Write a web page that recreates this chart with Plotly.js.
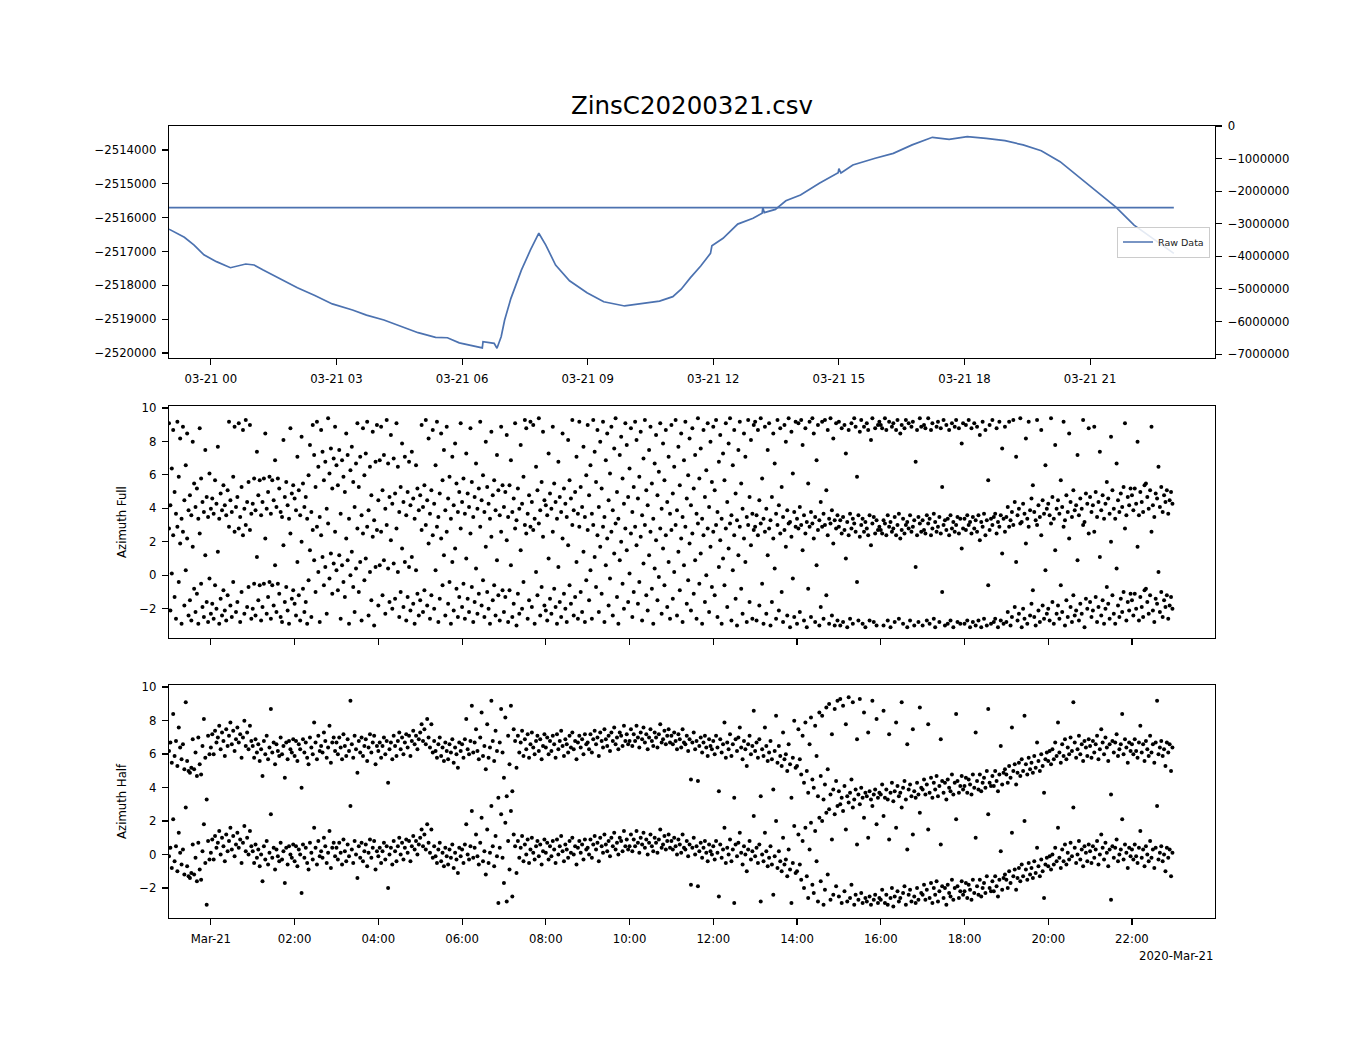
<!DOCTYPE html>
<html>
<head>
<meta charset="utf-8">
<script src="https://cdn.plot.ly/plotly-3.0.1.min.js"></script>
<style>html,body{margin:0;padding:0;background:#fff;}#chart{width:1350px;height:1050px;}</style>
</head>
<body>
<div id="chart"></div>
<script>
// ---------------- data ----------------
const chartTitle = "ZinsC20200321.csv";

// raw data: minutes after 2020-03-20 23:00 and value
const rawMinutes = [0,22,36,50,68,88,110,122,135,160,184,209,234,263,283,308,332,357,382,399,416,446,449,450,466,470,476,481,490,505,518,530,540,554,574,599,623,653,678,703,722,734,747,762,776,778,794,815,837,850,851,853,869,884,905,932,959,960,963,980,1012,1038,1065,1094,1118,1144,1171,1198,1224,1250,1277,1303,1330,1357,1383,1409,1440];
const rawValues = [-2516340,-2516580,-2516810,-2517100,-2517300,-2517480,-2517370,-2517400,-2517550,-2517820,-2518070,-2518300,-2518550,-2518730,-2518880,-2519025,-2519220,-2519400,-2519540,-2519550,-2519700,-2519830,-2519850,-2519665,-2519715,-2519860,-2519520,-2519025,-2518385,-2517550,-2516955,-2516460,-2516810,-2517400,-2517865,-2518220,-2518485,-2518610,-2518530,-2518465,-2518335,-2518115,-2517780,-2517430,-2517055,-2516830,-2516610,-2516190,-2516020,-2515870,-2515700,-2515850,-2515755,-2515500,-2515330,-2514985,-2514670,-2514550,-2514680,-2514445,-2514245,-2514100,-2513850,-2513625,-2513685,-2513605,-2513655,-2513725,-2513850,-2514020,-2514345,-2514790,-2515230,-2515690,-2516220,-2516610,-2517055];

// constant reference line on the right axis
const refMinutes = [0, 1440];
const refValues = [-2508000, -2508000];

// azimuth samples every 2 minutes from 23:00 (values in radians, -pi..pi)
const sampleStepMin = 2;
const azFull = [
2.8,-2.1,0.1,2.4,-1.3,-2.6,2.9,-0.4,1.9,-2.9, 2.6,-1.8,0.3,2.2,-2.4,-1.5,-2.7,1.7,-0.8,-2.2, -1.1,-2.9,2.5,-0.5,-1.9,-2.5,1.2,-1.6,-2.8,-0.2,
-2.3,-1.7,-2.6,-0.6,-2.0,1.4,-2.9,-1.4,-2.4,-0.9, -2.1,-2.7,-1.2,2.9,-1.8,-2.5,-0.4,2.6,-2.2,-1.6, 2.8,-2.8,-1.0,2.4,-2.3,3.0,-1.9,-0.7,2.7,-2.6,
-2.0,-0.5,-2.4,1.1,-1.5,-0.6,-2.7,-1.9,-0.5,2.2, -2.3,-1.3,-0.4,-2.6,-0.6,-1.8,0.6,-2.2,-0.5,-1.1, -2.5,-2.8,1.8,-1.6,-0.7,-2.1,-2.9,2.5,-1.4,-0.9,
-1.7,-2.4,0.8,-1.2,-2.7,2.0,-0.8,-2.2,-1.6,-2.9, -0.3,1.5,-2.5,2.7,0.9,-1.0,2.9,0.2,-2.8,2.4, 1.1,-0.6,0.5,-2.3,3.1,-0.2,1.3,-1.1,0.7,2.6,
0.3,-0.9,1.2,-2.6,0.6,-0.4,-1.3,2.2,0.9,-2.9, 0.0,1.4,-0.7,-2.2,0.4,2.8,-1.0,0.8,-2.7,2.5, -0.3,1.0,2.9,-2.4,0.2,-1.5,2.3,-3.0,0.5,2.7,
-1.8,0.6,2.6,-1.2,0.9,-2.3,3.0,0.4,-1.6,2.1, -2.0,0.7,-1.4,2.8,0.2,-2.5,-1.0,1.6,-1.9,0.8, -2.7,-1.3,0.5,-2.1,1.1,-1.7,-2.9,0.3,-1.1,-2.4,
-1.5,2.7,-2.2,-0.9,3.0,-1.8,1.9,-2.6,-1.2,2.4, -2.0,0.3,2.9,-2.8,-1.4,2.2,-0.6,1.2,-2.4,2.6, -1.7,-0.4,-2.9,0.8,-2.1,1.6,-0.8,-2.5,-1.3,2.8,
-1.9,-0.5,-2.6,1.0,-1.4,-2.2,2.5,-0.7,-2.8,-1.6, 0.4,-2.3,-1.1,2.9,-1.8,-0.3,-2.5,1.7,-1.0,-2.0, -2.9,2.3,-1.5,-0.6,-2.4,0.9,-1.2,-2.7,2.6,-0.9,
-2.2,-1.3,2.1,-2.8,-0.9,0.6,-2.5,-1.7,2.8,-3.0, -1.1,-2.3,1.5,-2.0,-0.4,3.0,2.5,-2.6,-1.5,2.9, -1.9,2.7,-2.9,0.2,-1.2,3.1,-2.4,-0.7,2.3,-1.8,
-2.1,-2.7,1.0,-1.4,-2.3,2.6,-0.8,-1.9,-2.9,0.5, -1.6,-2.5,2.2,-1.1,-2.0,-2.8,1.8,-0.6,-1.7,3.0, -2.4,-1.3,0.8,-2.6,2.9,-1.0,-2.2,1.4,-2.8,-0.3,
2.7,-1.5,0.3,-2.6,3.0,1.1,-0.7,2.4,-2.2,1.7, -1.1,2.9,-2.8,0.6,2.2,-1.8,-0.2,2.6,-2.4,1.3, 3.1,-1.3,-2.9,0.9,2.0,-0.5,-2.0,2.8,1.5,-1.6,
0.1,2.5,-2.5,-1.0,2.9,1.8,-1.7,-0.4,2.3,-2.7, 0.7,3.0,-1.2,-2.1,1.2,2.6,-0.8,-2.9,0.4,2.1, -1.5,-0.1,2.8,-2.3,1.6,-0.6,2.4,-1.9,0.8,-2.6,
2.7,-1.4,0.2,3.0,-2.4,1.4,-0.9,2.2,-2.8,0.6, 2.9,-1.7,-0.3,1.9,-2.1,2.5,-1.1,0.9,-2.6,3.1, -0.5,1.3,-2.9,2.4,-1.6,0.0,2.8,-2.2,1.7,-0.7,
2.6,-1.2,3.0,-2.5,0.5,2.1,-2.9,1.0,-0.6,2.8, -1.9,1.6,3.1,-2.7,0.3,2.4,-1.4,-3.0,1.2,2.9, -0.8,-2.3,2.2,0.8,-2.8,3.0,-1.6,1.8,-2.6,2.7,
2.9,-2.7,2.4,-1.8,3.1,-0.5,-2.9,2.6,-2.3,1.2, 2.8,-3.0,-1.6,2.2,0.4,-2.6,3.0,-2.1,2.5,-1.0, -2.8,2.7,1.7,-2.4,3.1,-3.1,2.3,-0.2,-2.5,2.9,
-2.9,2.8,-2.2,3.0,1.5,-2.7,2.5,-3.1,-0.8,2.9, -2.5,3.1,2.2,-2.8,0.6,2.7,-3.0,-1.9,2.9,-2.6, 3.0,-1.2,2.4,-2.9,3.1,-2.4,1.9,-3.0,2.8,-2.7,
2.9,-3.0,2.5,-2.8,2.7,1.0,-3.1,2.4,-2.6,2.8, -2.9,3.1,2.6,-0.4,-2.7,2.3,3.0,-2.9,2.6,-3.1, 2.8,2.4,-2.7,1.8,3.1,-2.8,2.5,-3.0,2.7,2.9,
2.7,2.5,-3.0,3.1,2.4,-2.7,2.9,-3.1,2.6,2.8, -2.8,2.4,3.0,-2.6,2.2,2.7,-2.9,2.5,3.0,-3.1, 2.8,-2.7,2.6,2.9,-3.0,0.5,2.4,-2.8,3.1,2.6,
-3.0,2.7,2.5,-2.7,3.1,-2.9,2.4,2.8,-2.6,-3.1, 2.6,2.9,-2.8,2.5,-1.0,3.0,-3.0,2.7,-2.9,2.4, -2.7,2.8,-3.1,2.6,3.0,-2.8,2.5,-2.9,1.6,2.8,
-2.9,2.7,-2.7,3.0,-3.1,2.5,-2.8,2.8,-3.0,2.6, -2.7,2.1,-3.1,2.9,-2.6,2.4,-3.0,-0.6,2.7,-2.9, 3.0,-2.8,-2.6,2.5,-3.1,2.9,-2.7,1.3,-2.9,2.6,
-2.8,-2.2,2.9,-3.0,-2.5,3.0,-1.9,0.8,-2.7,-2.3, 3.1,-3.1,-2.0,-2.6,1.9,-2.9,2.9,-2.4,-1.7,-0.9, -2.5,-3.0,3.0,-2.1,-2.8,2.4,-1.8,-2.6,0.3,-2.3,
-2.0,-2.7,3.1,-1.6,-2.9,1.5,-2.3,-1.8,-2.6,-0.6, -2.2,2.9,-3.0,-1.5,-2.5,2.2,-1.9,-2.8,-1.2,-2.4, -2.1,0.9,-2.7,-1.7,-2.3,3.0,-3.1,-1.4,-2.0,2.5,
-1.6,-2.5,-2.1,2.6,-1.3,-2.8,-1.9,1.1,-2.4,-1.5, -2.9,-2.0,-0.7,-1.7,-2.6,2.0,-1.2,-2.3,-2.9,0.4, -1.8,-2.5,-1.4,-2.2,-1.0,2.8,-2.7,-1.6,-2.1,-1.1,
-1.5,-2.4,-1.1,-2.0,1.7,-2.7,-1.3,-1.9,-2.5,-0.9, -0.8,-1.6,-2.3,-1.2,2.6,-2.1,-2.8,-1.4,-1.7,0.2, -2.2,-1.0,-2.5,-1.5,-1.9,-1.2,-2.6,-1.8,-1.3,-2.0
];
const azHalf = [
-0.1,0.4,-0.8,2.1,-0.4,0.5,-1.0,1.3,0.1,-0.6, 0.3,-1.2,2.8,-0.7,-1.3,-1.4,-1.1,0.6,-1.2,-0.2, -1.6,0.7,-0.9,-1.5,0.2,1.8,-0.5,-3.0,0.8,-0.3,
0.1,0.9,-0.3,1.1,0.4,0.7,1.4,0.0,1.0,0.5, -0.4,1.2,0.2,0.8,1.6,0.3,1.1,-0.1,0.6,1.3, 0.4,0.9,-0.5,0.7,1.7,0.2,1.0,0.0,1.4,0.5,
0.2,-0.5,0.6,-0.2,0.3,-0.7,0.0,-1.6,0.5,-0.3, 0.8,-0.6,0.1,2.4,-0.2,0.4,-0.9,0.3,-0.1,-0.4, 0.7,-0.3,0.2,-1.7,0.4,-0.6,0.5,0.0,-0.2,0.6,
-0.4,0.5,-0.7,0.3,0.0,-2.3,0.6,-0.2,0.4,-0.5, -0.9,0.7,0.1,-0.3,1.6,0.4,-0.6,0.8,-0.1,0.2, -0.2,1.0,0.5,-0.5,0.1,1.4,-0.8,0.4,0.7,-0.1,
0.4,-0.3,0.7,0.1,-0.6,0.9,0.2,-0.4,0.6,-0.1, 2.9,0.3,-0.5,0.8,0.0,-1.4,0.5,-0.2,0.7,-0.4, 0.2,0.6,-0.7,0.1,0.9,-0.2,0.4,0.8,-0.9,0.2,
-0.1,0.4,-0.5,0.2,0.7,-0.3,0.5,-2.0,0.0,0.4, -0.6,0.8,0.2,-0.4,0.5,1.0,0.0,0.7,-0.3,0.4, 0.9,0.1,0.8,-0.4,0.5,1.1,0.3,0.8,0.0,0.6,
1.0,1.5,0.5,1.2,0.3,1.8,0.7,0.1,1.5,-0.2, 0.5,-0.1,-0.5,0.3,0.7,-0.4,0.1,-0.7,0.4,-0.1, -0.6,0.3,-0.2,0.6,-0.8,0.1,-0.3,-1.1,0.4,-0.1,
0.3,-0.5,0.6,1.8,0.0,-0.3,0.5,2.6,-0.2,0.4, 1.2,-0.1,-0.6,0.7,2.2,-0.4,0.2,-1.2,1.5,-0.5, 0.1,2.9,0.5,-0.7,1.1,-0.1,-2.9,0.4,2.4,-0.2,
-1.7,1.9,-2.8,0.8,-0.9,2.6,-2.5,1.2,0.5,-1.1, 0.8,-0.2,0.4,1.1,-0.4,0.6,0.0,0.9,-0.5,0.3, 1.0,0.1,-0.3,0.5,0.8,-0.1,0.6,-0.6,0.2,0.9,
0.1,0.7,-0.3,0.5,-0.1,0.8,0.3,-0.5,0.9,0.0, 0.5,1.1,0.2,-0.4,0.6,0.3,-0.2,0.8,0.1,1.0, 0.0,0.5,-0.6,0.4,0.8,0.1,0.6,-0.3,0.9,0.3,
0.4,0.0,0.9,-0.2,0.6,1.1,0.3,0.7,-0.4,1.0, 0.5,0.1,1.2,0.6,0.2,0.8,-0.1,1.0,0.5,1.3, 0.3,0.7,0.0,1.0,0.8,0.2,1.4,0.5,0.9,0.3,
0.5,1.2,0.2,0.9,0.5,1.4,0.7,0.1,1.0,0.6, 1.3,0.4,0.9,0.0,0.7,1.2,0.5,0.2,1.0,0.7, 0.1,0.9,1.5,0.4,0.6,1.1,0.3,0.8,1.2,0.4,
0.8,0.3,1.0,0.5,0.0,0.9,0.6,0.1,1.2,0.4, 0.3,0.8,-0.1,0.6,-1.8,0.4,1.0,0.0,0.5,-1.9, 0.2,0.7,-0.2,0.4,0.8,0.1,-0.4,0.6,0.2,0.0,
0.5,-0.3,0.8,0.1,-2.5,0.6,-0.2,0.3,1.6,-0.5, 0.4,0.0,0.9,-0.4,0.3,-2.9,0.6,-0.1,0.7,1.3, 0.1,-0.6,0.5,0.0,-1.0,0.3,0.8,-0.3,0.2,2.3,
-0.1,0.4,-0.5,0.6,-2.8,0.0,-0.4,1.3,0.2,-0.7, -0.2,0.5,-0.6,-2.4,-0.1,2.0,-0.8,0.2,-0.4,-1.0, 1.0,-0.6,-0.3,-1.3,0.3,-0.9,-2.9,-0.5,1.7,-1.1,
-1.0,1.2,-0.6,-1.5,0.8,-2.0,1.6,-1.3,-2.6,0.3, 1.9,-1.8,-2.3,1.4,-0.4,-2.8,2.2,-1.6,2.0,-3.0, -2.1,2.5,-1.2,2.7,-2.7,0.9,-2.4,2.4,-1.9,2.9,
-2.5,3.0,-2.9,2.6,-2.2,1.5,-2.8,3.1,-2.6,-1.8, 2.8,-3.0,-2.4,0.6,-2.7,3.0,-2.3,-2.9,2.2,-2.6, -2.8,1.0,-2.5,-3.0,2.9,-2.7,-2.4,1.8,-2.9,-2.6,
-2.7,-2.1,2.3,-2.9,-2.4,-3.0,0.9,-2.6,-2.0,-3.1, -2.5,1.6,-2.2,-2.8,-2.6,2.8,-2.3,-1.9,-3.0,0.3, -2.4,-2.1,-2.8,1.2,-2.5,-2.9,-2.0,-2.7,2.5,-2.3,
-2.4,-1.8,-2.7,-2.1,1.5,-2.6,-1.7,-2.9,-2.0,-2.4, -1.6,-2.8,-2.2,0.6,-1.9,-2.6,-2.0,-3.0,-1.8,-2.3, -2.5,-1.5,-2.7,-2.0,2.1,-1.9,-2.6,-2.2,-1.6,-2.4,
-2.2,-1.7,-2.6,-1.8,-2.1,-2.7,-1.5,-2.3,1.0,-1.9, -2.4,-1.5,-2.5,-2.0,-1.7,-2.3,-1.3,2.4,-2.0,-2.2, -1.6,-2.2,-1.3,-1.9,-2.5,-1.5,0.2,-2.1,-1.4,-1.2,
-1.5,-2.0,-1.0,-1.7,1.3,-1.3,-0.9,-2.1,-1.4,-0.8, -1.6,-0.6,-1.3,2.0,-0.9,-1.5,-0.5,-1.2,-0.8,-1.4, -0.4,-1.1,0.4,-0.7,-1.3,-0.3,-1.0,-2.6,-0.6,-0.2,
-0.7,-0.1,-0.9,0.0,-0.6,0.4,-0.4,1.6,-0.2,-0.8, 0.3,-0.4,0.6,-0.6,0.1,-0.3,0.7,-0.1,2.8,0.4, -0.5,0.0,0.8,-0.3,0.3,-0.7,0.5,0.1,-0.4,0.6,
0.2,-0.5,0.5,-0.2,0.3,0.8,-0.6,0.0,1.2,0.4, -0.3,0.7,0.1,-0.7,0.3,-2.7,0.5,-0.2,0.4,0.9, -0.4,0.0,0.3,2.1,-0.3,0.6,0.1,-0.8,0.4,-0.1,
0.3,-0.3,0.6,-0.1,-0.5,0.4,1.4,-0.2,0.3,-0.7, 0.5,0.0,-0.4,0.8,-0.2,0.3,-0.8,0.4,2.9,-0.3, 0.1,0.5,-0.4,0.0,-1.0,0.4,-0.2,0.3,-1.3,0.1
];
// the original figure draws every azimuth twice: at its value and one full turn (2*pi) above
const wrapOffset = 2 * Math.PI;

// axis ticks
const topTickMinutes = [60,240,420,600,780,960,1140,1320];
const topTickLabels = ["03-21 00","03-21 03","03-21 06","03-21 09","03-21 12","03-21 15","03-21 18","03-21 21"];
const bottomTickMinutes = [60,180,300,420,540,660,780,900,1020,1140,1260,1380];
const bottomTickLabels = ["Mar-21","02:00","04:00","06:00","08:00","10:00","12:00","14:00","16:00","18:00","20:00","22:00"];
const rawTickValues = [-2514000,-2515000,-2516000,-2517000,-2518000,-2519000,-2520000];
const rawTickLabels = ["\u22122514000","\u22122515000","\u22122516000","\u22122517000","\u22122518000","\u22122519000","\u22122520000"];
const rightTickValues = [0,-1000000,-2000000,-3000000,-4000000,-5000000,-6000000,-7000000];
const rightTickLabels = ["0","\u22121000000","\u22122000000","\u22123000000","\u22124000000","\u22125000000","\u22126000000","\u22127000000"];
const azTickValues = [-2,0,2,4,6,8,10];
const azTickLabels = ["\u22122","0","2","4","6","8","10"];
const xRangeMinutes = [0, 1499];
const legendLabel = "Raw Data";
const yTitleFull = "Azimuth Full";
const yTitleHalf = "Azimuth Half";
const dateOffsetLabel = "2020-Mar-21";

// ---------------- helpers ----------------
const BASE = Date.UTC(2020, 2, 20, 23, 0);
function stamp(min) {
  return new Date(BASE + min * 60000).toISOString().slice(0, 19).replace('T', ' ');
}
const FONT = "DejaVu Sans, Verdana, sans-serif";
const LINE_BLUE = "#4c72b0";
const TICK_FONT = {family: FONT, size: 11.7, color: "#000"};

const azTimes = azFull.map((_, i) => stamp(i * sampleStepMin));
const azTimesHalf = azHalf.map((_, i) => stamp(i * sampleStepMin));

const dotMarker = {color: "#000", size: 4, line: {width: 0}};

const traces = [
  {x: rawMinutes.map(stamp), y: rawValues, type: "scatter", mode: "lines", name: legendLabel,
   line: {color: LINE_BLUE, width: 1.7}, xaxis: "x", yaxis: "y", showlegend: true},
  {x: refMinutes.map(stamp), y: refValues, type: "scatter", mode: "lines", name: "ref",
   line: {color: LINE_BLUE, width: 1.7}, xaxis: "x", yaxis: "y2", showlegend: false},
  {x: azTimes, y: azFull, type: "scatter", mode: "markers", marker: dotMarker,
   xaxis: "x2", yaxis: "y3", showlegend: false},
  {x: azTimes, y: azFull.map(v => v + wrapOffset), type: "scatter", mode: "markers", marker: dotMarker,
   xaxis: "x2", yaxis: "y3", showlegend: false},
  {x: azTimesHalf, y: azHalf, type: "scatter", mode: "markers", marker: dotMarker,
   xaxis: "x3", yaxis: "y4", showlegend: false},
  {x: azTimesHalf, y: azHalf.map(v => v + wrapOffset), type: "scatter", mode: "markers", marker: dotMarker,
   xaxis: "x3", yaxis: "y4", showlegend: false}
];

const W = 1350, H = 1050;
const xDom = [169 / W, 1215 / W];
function yDom(top, bottom) { return [1 - bottom / H, 1 - top / H]; }

const axisCommon = {
  showline: true, linecolor: "#000", linewidth: 1.3, mirror: true,
  ticks: "outside", ticklen: 6, tickwidth: 1.1, tickcolor: "#000",
  showgrid: false, zeroline: false, tickfont: TICK_FONT, fixedrange: true
};
const xRange = xRangeMinutes.map(stamp);

const layout = {
  width: W, height: H,
  margin: {l: 0, r: 0, t: 0, b: 0},
  paper_bgcolor: "#fff", plot_bgcolor: "#fff",
  font: {family: FONT, color: "#000"},
  hovermode: false,
  title: {text: chartTitle, font: {family: FONT, size: 24.5, color: "#000"},
          x: 692 / W, xanchor: "center", y: 1 - 105 / H, yanchor: "middle"},
  showlegend: true,
  legend: {x: 1210 / W, xanchor: "right", y: 1 - 242 / H, yanchor: "middle",
           font: {family: FONT, size: 9.5, color: "#222"}, bgcolor: "rgba(255,255,255,0.85)",
           bordercolor: "#cccccc", borderwidth: 1, itemwidth: 30},
  xaxis: Object.assign({}, axisCommon, {domain: xDom, anchor: "y", type: "date", range: xRange,
    tickmode: "array", tickvals: topTickMinutes.map(stamp), ticktext: topTickLabels, ticklabelstandoff: 4}),
  yaxis: Object.assign({}, axisCommon, {domain: yDom(126, 358), anchor: "x", range: [-2520148, -2513291],
    tickmode: "array", tickvals: rawTickValues, ticktext: rawTickLabels, ticklabelstandoff: 3}),
  yaxis2: Object.assign({}, axisCommon, {overlaying: "y", side: "right", anchor: "x", range: [-7120000, 0],
    tickmode: "array", tickvals: rightTickValues, ticktext: rightTickLabels, mirror: false, ticklabelstandoff: 3}),
  xaxis2: Object.assign({}, axisCommon, {domain: xDom, anchor: "y3", type: "date", range: xRange,
    tickmode: "array", tickvals: bottomTickMinutes.map(stamp), showticklabels: false}),
  yaxis3: Object.assign({}, axisCommon, {domain: yDom(406, 638), anchor: "x2", range: [-3.75, 10.12],
    tickmode: "array", tickvals: azTickValues, ticktext: azTickLabels, ticklabelstandoff: 3}),
  xaxis3: Object.assign({}, axisCommon, {domain: xDom, anchor: "y4", type: "date", range: xRange,
    tickmode: "array", tickvals: bottomTickMinutes.map(stamp), ticktext: bottomTickLabels, ticklabelstandoff: 4}),
  yaxis4: Object.assign({}, axisCommon, {domain: yDom(685, 918), anchor: "x3", range: [-3.79, 10.12],
    tickmode: "array", tickvals: azTickValues, ticktext: azTickLabels, ticklabelstandoff: 3}),
  annotations: [
    {text: yTitleFull, xref: "paper", yref: "paper", x: 122 / W, y: 1 - 522 / H, textangle: -90,
     showarrow: false, xanchor: "center", yanchor: "middle", font: {family: FONT, size: 11.7, color: "#000"}},
    {text: yTitleHalf, xref: "paper", yref: "paper", x: 122 / W, y: 1 - 801 / H, textangle: -90,
     showarrow: false, xanchor: "center", yanchor: "middle", font: {family: FONT, size: 11.7, color: "#000"}},
    {text: dateOffsetLabel, xref: "paper", yref: "paper", x: 1215 / W, y: 1 - 956 / H,
     showarrow: false, xanchor: "right", yanchor: "middle", font: {family: FONT, size: 11.7, color: "#000"}}
  ]
};

Plotly.newPlot("chart", traces, layout, {displayModeBar: false, staticPlot: true});
</script>
</body>
</html>
